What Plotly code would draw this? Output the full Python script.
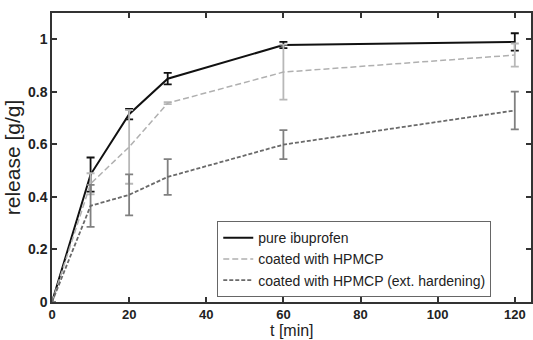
import plotly.graph_objects as go

t = [0, 10, 20, 30, 60, 120]
pure = [0, 0.485, 0.715, 0.85, 0.978, 0.99]
pure_err = [0, 0.065, 0.02, 0.022, 0.012, 0.033]
hpmcp = [0, 0.45, 0.59, 0.757, 0.875, 0.94]
hpmcp_err = [0, 0.04, 0.14, 0.004, 0.105, 0.044]
ext = [0, 0.366, 0.408, 0.476, 0.599, 0.729]
ext_err = [0, 0.08, 0.078, 0.068, 0.055, 0.072]

names = ["pure ibuprofen", "coated with HPMCP", "coated with HPMCP (ext. hardening)"]
line_colors = ["#111111", "#b0b0b0", "#6a6a6a"]
err_colors = ["#111111", "#b8b8b8", "#808080"]
dashes = ["solid", "6px,3px", "4px,2px"]
widths = [2, 1.5, 1.8]

fig = go.Figure()
for y, e, n, lc, ec, d, w in zip([pure, hpmcp, ext], [pure_err, hpmcp_err, ext_err],
                                  names, line_colors, err_colors, dashes, widths):
    fig.add_trace(go.Scatter(
        x=t, y=y, name=n, mode="lines",
        line=dict(color=lc, width=w, dash=d),
        error_y=dict(type="data", array=e, visible=True, color=ec, thickness=1.8, width=4),
    ))

axis_common = dict(
    showline=True, linecolor="#333333", linewidth=1.5, mirror="ticks",
    ticks="inside", ticklen=5, tickcolor="#333333", tickwidth=1.5,
    showgrid=False, zeroline=False,
    tickfont=dict(family="Liberation Sans, Arial", size=14, color="#222222", weight="bold"),
)

fig.update_layout(
    width=533, height=340,
    margin=dict(l=52, r=0, t=13, b=38),
    paper_bgcolor="white", plot_bgcolor="white",
    showlegend=True,
    legend=dict(
        x=0.345, y=0.28, xanchor="left", yanchor="top",
        bgcolor="white", bordercolor="#666666", borderwidth=1,
        font=dict(family="Liberation Sans, Arial", size=14, color="#222222"),
        tracegroupgap=0, itemwidth=30,
    ),
    xaxis=dict(range=[0, 124.2], tickvals=[0, 20, 40, 60, 80, 100, 120],
               **axis_common),
    yaxis=dict(range=[0, 1.1], tickvals=[0, 0.2, 0.4, 0.6, 0.8, 1.0],
               ticktext=["0", "0.2", "0.4", "0.6", "0.8", "1"],
               title=dict(text="release [g/g]", standoff=2,
                          font=dict(family="Liberation Sans, Arial", size=21, color="#222222")),
               **axis_common),
    annotations=[dict(
        text="t [min]", xref="paper", yref="paper", x=0.5, y=-0.097,
        xanchor="center", yanchor="middle", showarrow=False,
        font=dict(family="Liberation Sans, Arial", size=16, color="#222222"),
    )],
)
fig.update_xaxes(tickfont_size=13)

fig.write_html("out.html")
